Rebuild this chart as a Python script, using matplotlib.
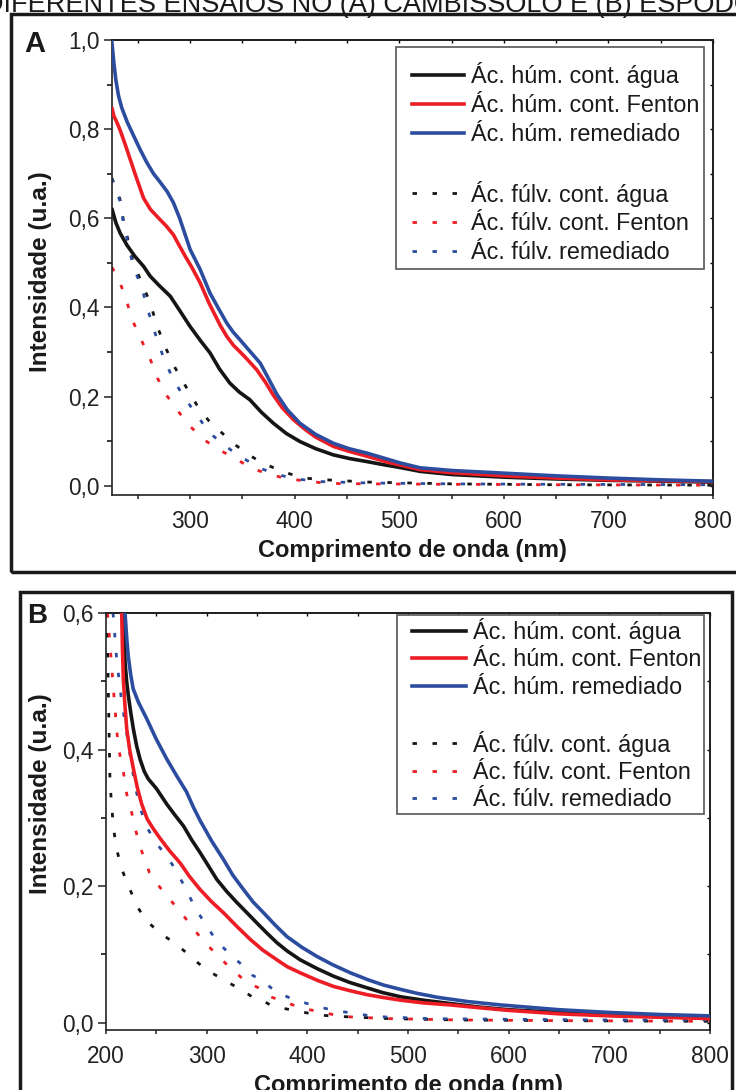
import matplotlib
matplotlib.use("Agg")
import matplotlib.pyplot as plt
from matplotlib.lines import Line2D
from matplotlib.patches import Rectangle
from matplotlib.legend_handler import HandlerLine2D
from matplotlib.ticker import MultipleLocator, FuncFormatter

plt.rcParams['font.family'] = ['Liberation Sans', 'DejaVu Sans']

W, H = 736, 1090

# ---------------- Panel A: Cambissolo ----------------
a_hum_agua_x = [225, 229, 233, 239.5, 247, 255.5, 261.8, 270, 281, 290, 300, 310, 319, 328, 338, 347, 357, 368, 379.6, 392, 405, 420, 437, 452, 469, 485, 500, 520, 550, 600, 650, 700, 750, 800]
a_hum_agua_y = [0.623, 0.59, 0.567, 0.54, 0.515, 0.492, 0.47, 0.45, 0.425, 0.393, 0.357, 0.325, 0.298, 0.262, 0.23, 0.21, 0.193, 0.165, 0.14, 0.117, 0.099, 0.083, 0.069, 0.061, 0.054, 0.047, 0.041, 0.032, 0.025, 0.019, 0.015, 0.012, 0.010, 0.008]

a_hum_fenton_x = [225, 227, 230, 233, 238, 243, 248, 255.5, 262, 270, 277, 284, 290, 296, 301.6, 309.6, 318, 328.7, 335, 341.4, 352, 363.7, 372, 379.6, 388, 398.8, 410, 420, 437, 452, 469, 490, 520, 550, 600, 650, 700, 750, 800]
a_hum_fenton_y = [0.85, 0.83, 0.815, 0.798, 0.765, 0.73, 0.695, 0.645, 0.62, 0.60, 0.583, 0.563, 0.537, 0.512, 0.49, 0.455, 0.41, 0.36, 0.335, 0.315, 0.29, 0.26, 0.232, 0.203, 0.175, 0.148, 0.126, 0.109, 0.088, 0.077, 0.066, 0.052, 0.036, 0.029, 0.022, 0.017, 0.013, 0.011, 0.009]

a_hum_remed_x = [225, 227, 229, 231.5, 234.6, 240, 246, 252, 258.6, 265, 271, 278, 284, 290, 295, 300, 309.6, 319, 327, 335, 341, 347.8, 357, 367, 375, 382.9, 393, 405, 420, 437, 452, 469, 485, 500.8, 520, 550, 600, 650, 700, 750, 800]
a_hum_remed_y = [1.0, 0.95, 0.91, 0.875, 0.848, 0.815, 0.785, 0.755, 0.725, 0.70, 0.682, 0.66, 0.635, 0.60, 0.565, 0.53, 0.485, 0.432, 0.398, 0.365, 0.345, 0.327, 0.302, 0.275, 0.24, 0.205, 0.17, 0.14, 0.115, 0.095, 0.083, 0.073, 0.062, 0.051, 0.04, 0.034, 0.028, 0.022, 0.017, 0.013, 0.01]

a_fulv_agua_x = [225, 228, 233, 236, 245.6, 253.8, 261.8, 268, 276, 285.7, 295, 306.4, 319, 332.5, 344.6, 359, 370, 389, 408.5, 430.7, 470, 550, 650, 800]
a_fulv_agua_y = [0.69, 0.675, 0.642, 0.598, 0.50, 0.455, 0.41, 0.361, 0.312, 0.264, 0.226, 0.181, 0.142, 0.114, 0.089, 0.065, 0.05, 0.031, 0.017, 0.013, 0.008, 0.004, 0.002, 0.001]

a_fulv_fenton_x = [225, 229.9, 238, 244.3, 252.9, 261.8, 268.8, 277.7, 288.8, 300, 313.4, 327.7, 343, 358, 371.7, 392.4, 409.8, 430.7, 470, 550, 650, 800]
a_fulv_fenton_y = [0.49, 0.473, 0.425, 0.374, 0.329, 0.284, 0.241, 0.202, 0.166, 0.133, 0.103, 0.08, 0.062, 0.039, 0.029, 0.015, 0.011, 0.005, 0.004, 0.003, 0.002, 0.001]

a_fulv_remed_x = [225, 228, 233, 236, 245.6, 253.8, 260, 266.5, 274, 282.5, 293.6, 306.4, 317.5, 330.3, 341.4, 352.6, 367, 384.4, 405, 426, 470, 550, 650, 800]
a_fulv_remed_y = [0.69, 0.672, 0.638, 0.593, 0.492, 0.444, 0.391, 0.342, 0.291, 0.245, 0.2, 0.159, 0.121, 0.095, 0.076, 0.059, 0.039, 0.024, 0.014, 0.009, 0.006, 0.004, 0.003, 0.002]

# ---------------- Panel B: Espodossolo ----------------
b_hum_agua_x = [217.3, 218.2, 218.9, 220.5, 222.2, 224.5, 227.2, 230.5, 233.8, 238, 242, 250, 260.4, 268, 277, 285, 293.5, 302, 310, 320, 330, 340, 349.9, 360, 369.9, 380, 393, 410, 426.2, 442, 459.4, 475, 492.5, 515, 542.3, 570, 600, 650, 700, 750, 800]
b_hum_agua_y = [0.60, 0.56, 0.528, 0.50, 0.479, 0.455, 0.43, 0.405, 0.386, 0.368, 0.357, 0.343, 0.32, 0.305, 0.288, 0.268, 0.249, 0.229, 0.21, 0.192, 0.176, 0.161, 0.146, 0.131, 0.117, 0.105, 0.092, 0.079, 0.068, 0.059, 0.051, 0.044, 0.038, 0.033, 0.028, 0.023, 0.019, 0.015, 0.011, 0.009, 0.008]

b_hum_fenton_x = [215.6, 216.3, 217.2, 218.8, 220.6, 223.5, 227.2, 231, 235.5, 241, 247, 253.7, 263, 273.6, 283, 293.5, 305, 316.7, 330, 343.3, 356, 369.9, 380, 393, 410, 426.2, 442, 459.4, 475, 492.5, 515, 542.3, 570, 600, 650, 700, 750, 800]
b_hum_fenton_y = [0.60, 0.55, 0.504, 0.465, 0.43, 0.40, 0.372, 0.345, 0.32, 0.298, 0.284, 0.27, 0.252, 0.234, 0.214, 0.195, 0.177, 0.161, 0.141, 0.122, 0.106, 0.092, 0.082, 0.073, 0.062, 0.053, 0.047, 0.041, 0.037, 0.033, 0.029, 0.026, 0.022, 0.018, 0.013, 0.010, 0.008, 0.006]

b_hum_remed_x = [218.9, 220.5, 222, 224.5, 227, 232, 240.5, 250, 260.4, 270, 280, 287, 293.5, 305, 316.7, 326, 336.6, 346, 356.5, 368, 379.8, 395, 409.6, 425, 442.8, 460, 476, 492, 509, 530, 558.9, 592, 650, 700, 750, 800]
b_hum_remed_y = [0.60, 0.565, 0.538, 0.51, 0.489, 0.47, 0.445, 0.415, 0.386, 0.362, 0.338, 0.315, 0.296, 0.266, 0.239, 0.216, 0.195, 0.177, 0.161, 0.143, 0.126, 0.11, 0.097, 0.085, 0.073, 0.063, 0.055, 0.049, 0.043, 0.037, 0.031, 0.026, 0.019, 0.015, 0.012, 0.010]

b_fulv_agua_x = [201, 202.5, 204, 205.7, 207.3, 210.6, 215.6, 223.9, 230.5, 240.5, 253.7, 267, 280.3, 291.8, 305, 320, 335, 345, 355, 363.2, 376.4, 393, 413, 434.5, 480, 550, 650, 800]
b_fulv_agua_y = [0.60, 0.47, 0.35, 0.318, 0.286, 0.254, 0.225, 0.195, 0.171, 0.149, 0.131, 0.118, 0.102, 0.087, 0.073, 0.06, 0.048, 0.038, 0.033, 0.026, 0.021, 0.016, 0.011, 0.009, 0.006, 0.004, 0.003, 0.002]

b_fulv_fenton_x = [201.5, 202.3, 204, 205.7, 207.3, 209, 210.6, 213.3, 217.3, 220.6, 225.6, 230.5, 235.5, 243.1, 253.7, 263.7, 273.6, 285.3, 295.2, 308.5, 320.1, 339, 351.6, 363.2, 374.8, 394.7, 413, 434.5, 480, 550, 650, 800]
b_fulv_fenton_y = [0.60, 0.587, 0.553, 0.521, 0.489, 0.46, 0.428, 0.396, 0.367, 0.335, 0.307, 0.276, 0.251, 0.22, 0.198, 0.18, 0.163, 0.141, 0.122, 0.102, 0.085, 0.06, 0.051, 0.038, 0.032, 0.021, 0.016, 0.009, 0.006, 0.004, 0.003, 0.002]

b_fulv_remed_x = [206.9, 207.3, 209, 210.6, 215.6, 218.9, 222.2, 225.6, 228.9, 233.8, 240.5, 252, 260.4, 268.7, 278.6, 288.6, 300.2, 310.2, 323.4, 333.3, 345, 356.5, 368.2, 385.8, 404.7, 423, 444.5, 467.7, 520, 600, 700, 800]
b_fulv_remed_y = [0.60, 0.595, 0.563, 0.532, 0.47, 0.44, 0.408, 0.376, 0.347, 0.315, 0.286, 0.259, 0.244, 0.225, 0.198, 0.168, 0.141, 0.119, 0.1, 0.087, 0.07, 0.06, 0.046, 0.034, 0.026, 0.019, 0.014, 0.009, 0.006, 0.005, 0.004, 0.004]

labels = ["Ác. húm. cont. água", "Ác. húm. cont. Fenton", "Ác. húm. remediado",
          "Ác. fúlv. cont. água", "Ác. fúlv. cont. Fenton", "Ác. fúlv. remediado"]
colors = ["#151515", "#ec1d25", "#2c4d9f"]

title_text = "DIFERENTES ENSAIOS NO (A) CAMBISSOLO E (B) ESPODOSSOLO"
xlabel = "Comprimento de onda (nm)"
ylabel = "Intensidade (u.a.)"

SOLID_LW = 2.6
DOT_LW = 2.0
DOT_STYLE = (0, (1.6, 5.6))
FS = 16.3
LFS = 16.8


def fx(px):
    return px / W


def fy(py):
    return 1 - py / H


def comma(v, pos):
    return f"{v:.1f}".replace(".", ",")


def style_axes(ax, xlim, ylim, xmajor):
    ax.set_xlim(*xlim)
    ax.set_ylim(*ylim)
    ax.xaxis.set_minor_locator(MultipleLocator(50))
    ax.set_xticks(xmajor)
    ax.yaxis.set_major_locator(MultipleLocator(0.2))
    ax.yaxis.set_minor_locator(MultipleLocator(0.1))
    ax.yaxis.set_major_formatter(FuncFormatter(comma))
    ax.xaxis.set_major_formatter(FuncFormatter(lambda v, p: f"{v:.0f}"))
    for s in ax.spines.values():
        s.set_linewidth(1.2)
        s.set_color("#222222")
    ax.tick_params(axis="x", which="both", direction="out", length=3.2, width=1.1,
                   labelsize=FS, pad=7.8, colors="#222222")
    ax.tick_params(axis="y", which="major", direction="out", length=5.8, width=1.1,
                   labelsize=FS, pad=3.0, colors="#222222")
    ax.tick_params(axis="y", which="minor", direction="out", length=3.6, width=1.1)
    top = ax.secondary_xaxis("top")
    top.xaxis.set_major_locator(MultipleLocator(50))
    top.tick_params(direction="in", length=2.5, width=1.0, labeltop=False)
    top.spines["top"].set_linewidth(1.2)
    right = ax.secondary_yaxis("right")
    right.yaxis.set_major_locator(MultipleLocator(0.1))
    right.tick_params(direction="in", length=2.5, width=1.0, labelright=False)
    right.spines["right"].set_linewidth(1.2)


def draw_panel(ax, hum, fulv):
    for (x, y), c in zip(fulv, colors):
        ax.plot(x, y, color=c, lw=DOT_LW, linestyle=DOT_STYLE, dash_capstyle="butt", zorder=2)
    for (x, y), c in zip(hum, colors):
        ax.plot(x, y, color=c, lw=SOLID_LW, solid_capstyle="butt", zorder=3)


def add_legend(ax, anchor, spacing, pad, xpad, hlen, spacer):
    handles = [Line2D([], [], color=c, lw=SOLID_LW) for c in colors]
    handles.append(Line2D([], [], color="none"))
    handles += [Line2D([], [], color=c, lw=DOT_LW, linestyle=DOT_STYLE) for c in colors]
    labs = labels[:3] + [" "] + labels[3:]
    leg = ax.legend(handles, labs, loc="upper right", bbox_to_anchor=anchor,
                    borderaxespad=0, fontsize=LFS, frameon=True, fancybox=False,
                    handlelength=hlen, handletextpad=0.3, labelspacing=spacing,
                    borderpad=pad, framealpha=1,
                    title=" " if spacer else None, title_fontsize=spacer if spacer else None,
                    handler_map={Line2D: HandlerLine2D(xpad=xpad)})
    fr = leg.get_frame()
    fr.set_edgecolor("#555555")
    fr.set_linewidth(1.2)
    for t in leg.get_texts():
        t.set_color("#1a1a1a")
    return leg


fig = plt.figure(figsize=(W / 100, H / 100), dpi=100)

axA = fig.add_axes([fx(111.7), fy(495), fx(713) - fx(111.7), fy(40) - fy(495)])
axB = fig.add_axes([fx(106), fy(1030), fx(710) - fx(106), fy(613) - fy(1030)])

style_axes(axA, (225, 800), (-0.021, 1.0), [300, 400, 500, 600, 700, 800])
style_axes(axB, (200, 800), (-0.0107, 0.6), [200, 300, 400, 500, 600, 700, 800])

draw_panel(axA,
           [(a_hum_agua_x, a_hum_agua_y), (a_hum_fenton_x, a_hum_fenton_y), (a_hum_remed_x, a_hum_remed_y)],
           [(a_fulv_agua_x, a_fulv_agua_y), (a_fulv_fenton_x, a_fulv_fenton_y), (a_fulv_remed_x, a_fulv_remed_y)])
draw_panel(axB,
           [(b_hum_agua_x, b_hum_agua_y), (b_hum_fenton_x, b_hum_fenton_y), (b_hum_remed_x, b_hum_remed_y)],
           [(b_fulv_agua_x, b_fulv_agua_y), (b_fulv_fenton_x, b_fulv_fenton_y), (b_fulv_remed_x, b_fulv_remed_y)])

add_legend(axA, ((704.3 - 111.7) / 601.3, 1 - (47.3 - 40) / 455), 0.25, 0.22, 0.48, 2.7, 2.0)
add_legend(axB, ((704 - 106) / 604, 1 - (615 - 613) / 417), 0.19, 0.12, 0.53, 2.83, None)

# axis titles and panel letters
fig.text(fx(412), fy(556.5), xlabel, ha="center", va="baseline", fontsize=17, fontweight="bold", color="#1a1a1a")
fig.text(fx(408), fy(1092), xlabel, ha="center", va="baseline", fontsize=17, fontweight="bold", color="#1a1a1a")
fig.text(fx(41), fy(272), ylabel, ha="center", va="center", rotation=90, fontsize=17.6, fontweight="bold", color="#1a1a1a")
fig.text(fx(41), fy(794), ylabel, ha="center", va="center", rotation=90, fontsize=17.6, fontweight="bold", color="#1a1a1a")
fig.text(fx(35), fy(44), "A", ha="center", va="center", fontsize=21, fontweight="bold", color="#1a1a1a")
fig.text(fx(37), fy(616), "B", ha="center", va="center", fontsize=20, fontweight="bold", color="#1a1a1a")

# heading running along the top edge
fig.text(fx(-16.5), fy(12.3), title_text, ha="left", va="baseline", fontsize=19.5, color="#1a1a1a")

# frames around each panel
fig.add_artist(Rectangle((fx(11), fy(571.5)), fx(760) - fx(11), fy(14) - fy(571.5),
                         transform=fig.transFigure, fill=False, lw=2.5, edgecolor="#1a1a1a", clip_on=False))
fig.add_artist(Rectangle((fx(20), fy(1110)), fx(731.5) - fx(20), fy(592.5) - fy(1110),
                         transform=fig.transFigure, fill=False, lw=2.5, edgecolor="#1a1a1a", clip_on=False))

fig.savefig("out.png", dpi=100)
